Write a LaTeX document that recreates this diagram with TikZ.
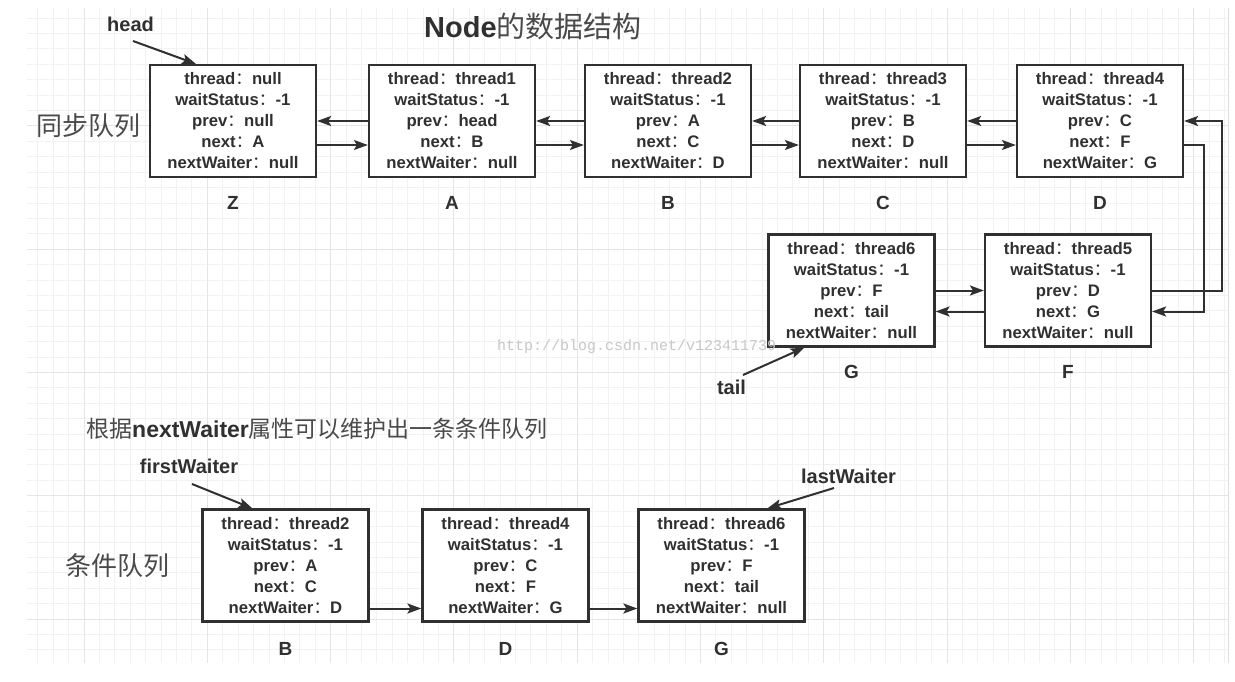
\documentclass[tikz,border=0pt]{standalone}
\usepackage{fontspec}
\setmainfont{Liberation Sans}
\newfontfamily\cjk{Noto Sans CJK SC}
\newfontfamily\wmfont{Liberation Mono}
\usetikzlibrary{arrows.meta}
\definecolor{ink}{HTML}{303030}
\definecolor{cjkgray}{HTML}{4A4A4A}
\newcommand{\fc}{{\cjk\mdseries ：}}
\tikzset{
  qnode/.style={draw=ink, line width=2.2pt, fill=white, minimum width=166pt,
    minimum height=112pt, inner sep=0pt, align=center, text=ink,
    font=\fontsize{16.7}{21}\selectfont\bfseries},
  lbl/.style={anchor=base, inner sep=0pt, text=ink, font=\fontsize{19}{19}\selectfont\bfseries},
  ptr/.style={anchor=base, inner sep=0pt, text=ink, font=\fontsize{20}{20}\selectfont\bfseries},
  arr/.style={draw=ink, line width=2pt, -{Stealth[length=14pt,width=10pt,inset=3pt]}},
  gridminor/.style={draw=black!5, line width=0.8pt},
  gridmajor/.style={draw=black!10, line width=0.9pt},
  cjklabel/.style={anchor=base west, inner sep=0pt, text=cjkgray},
}
\begin{document}
\begin{tikzpicture}[x=1pt,y=-1pt]
\fill[white] (0,0) rectangle (1235,682);
\useasboundingbox (0,0) rectangle (1235,682);
% grid
\foreach \i in {0,...,77} \draw[gridminor] ({37.77+15.41*\i},8) -- ({37.77+15.41*\i},663);
\foreach \j in {0,...,41} \draw[gridminor] (27,{18+15.41*\j}) -- (1228,{18+15.41*\j});
\foreach \i in {0,...,9} \draw[gridmajor] ({84+123.28*\i},8) -- ({84+123.28*\i},663);
\foreach \j in {0,...,4} \draw[gridmajor] (27,{619-123.28*\j}) -- (1228,{619-123.28*\j});
\draw[black!12, line width=1pt] (1228,8) -- (1228,663);

% titles
\node[anchor=base west, inner sep=0pt] (title) at (424,37.5)
  {\fontsize{29}{29}\selectfont\bfseries\color{ink}Node\mdseries\cjk\color{cjkgray}的数据结构};
\node[cjklabel, font=\cjk\fontsize{26}{26}\selectfont] (sq) at (36,135.5) {同步队列};
\node[cjklabel, font=\cjk\fontsize{26}{26}\selectfont] (cq) at (65,575.5) {条件队列};
\node[cjklabel, font=\fontsize{23}{23}\selectfont] (sub) at (86,437)
  {{\cjk 根据}{\bfseries\color{ink}nextWaiter}{\cjk 属性可以维护出一条条件队列}};

% sync queue
\node[qnode] (Z) at (233,121) {thread\fc null\\waitStatus\fc -1\\prev\fc null\\next\fc A\\nextWaiter\fc null};
\node[qnode] (A) at (452,121) {thread\fc thread1\\waitStatus\fc -1\\prev\fc head\\next\fc B\\nextWaiter\fc null};
\node[qnode] (B) at (668,121) {thread\fc thread2\\waitStatus\fc -1\\prev\fc A\\next\fc C\\nextWaiter\fc D};
\node[qnode] (C) at (883,121) {thread\fc thread3\\waitStatus\fc -1\\prev\fc B\\next\fc D\\nextWaiter\fc null};
\node[qnode] (D) at (1100,121) {thread\fc thread4\\waitStatus\fc -1\\prev\fc C\\next\fc F\\nextWaiter\fc G};
\node[qnode] (G) at (851.5,290.5) {thread\fc thread6\\waitStatus\fc -1\\prev\fc F\\next\fc tail\\nextWaiter\fc null};
\node[qnode] (F) at (1068,290.5) {thread\fc thread5\\waitStatus\fc -1\\prev\fc D\\next\fc G\\nextWaiter\fc null};

\foreach \p/\q in {Z/A,A/B,B/C,C/D} {
  \draw[arr] (\q.west) -- (\p.east);
  \draw[arr] ([yshift=-24pt]\p.east) -- ([yshift=-24pt]\q.west);
}
\draw[arr] (G.east) -- (F.west);
\draw[arr] ([yshift=-21pt]F.west) -- ([yshift=-21pt]G.east);
\draw[arr] (F.east) -- ++(70pt,0) |- (D.east);
\draw[arr] ([yshift=-24pt]D.east) -- ++(20pt,0) |- ([yshift=-21pt]F.east);

\foreach \n in {Z,A,B,C,D} \node[lbl] (l\n) at ([yshift=-31pt]\n.south) {\n};
\node[lbl] (lG) at ([yshift=-30.5pt]G.south) {G};
\node[lbl] (lF) at ([yshift=-30.5pt]F.south) {F};

\node[ptr] (head) at (130.5,32) {head};
\draw[arr] ([shift={(2.5pt,-9pt)}]head.base) -- ([xshift=47pt]Z.north west);
\node[ptr] (tail) at (731.5,394) {tail};
\draw[arr] ([shift={(11.5pt,19pt)}]tail.base) -- ([xshift=37pt]G.south west);

% condition queue
\node[qnode] (B2) at (285.5,565.5) {thread\fc thread2\\waitStatus\fc -1\\prev\fc A\\next\fc C\\nextWaiter\fc D};
\node[qnode] (D2) at (505.5,565.5) {thread\fc thread4\\waitStatus\fc -1\\prev\fc C\\next\fc F\\nextWaiter\fc G};
\node[qnode] (G2) at (721.5,565.5) {thread\fc thread6\\waitStatus\fc -1\\prev\fc F\\next\fc tail\\nextWaiter\fc null};
\draw[arr] ([yshift=-43pt]B2.east) -- ([yshift=-43pt]D2.west);
\draw[arr] ([yshift=-43pt]D2.east) -- ([yshift=-43pt]G2.west);
\node[lbl] (lB2) at ([yshift=-32.5pt]B2.south) {B};
\node[lbl] (lD2) at ([yshift=-32.5pt]D2.south) {D};
\node[lbl] (lG2) at ([yshift=-32.5pt]G2.south) {G};

\node[ptr] (fw) at (189,473) {firstWaiter};
\draw[arr] ([shift={(3pt,-11pt)}]fw.base) -- ([xshift=51pt]B2.north west);
\node[ptr] (lw) at (848.5,483) {lastWaiter};
\draw[arr] ([shift={(-14.5pt,-5pt)}]lw.base) -- ([xshift=130pt]G2.north west);

% watermark
\node[anchor=base west, inner sep=0pt, text=black!22, font=\wmfont\fontsize{15}{15}\selectfont] (wm) at (497,350) {http://blog.csdn.net/v123411739};
\end{tikzpicture}
\end{document}
